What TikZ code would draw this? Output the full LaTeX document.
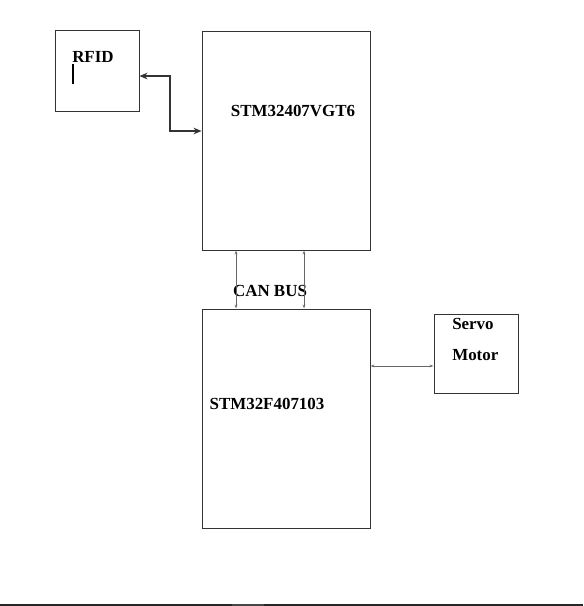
\documentclass[tikz,border=0pt]{standalone}
\usepackage{fontspec}
\setmainfont{Liberation Serif}
\usetikzlibrary{arrows.meta,positioning}

\tikzset{
	box/.style={draw=black!80, line width=0.75pt, rectangle, inner sep=0pt},
	lbl/.style={font=\fontsize{12.7}{15}\selectfont\bfseries, inner sep=0pt},
	link/.style={draw=black!80, line width=1.5pt, {Stealth[length=6pt,width=5pt]}-{Stealth[length=6pt,width=5pt]}},
	can/.style={draw=black!60, line width=0.6pt, {Stealth[length=3pt,width=2pt]}-{Stealth[length=3pt,width=2pt]}}
}

\begin{document}
\begin{tikzpicture}[x=0.75pt, y=-0.75pt]
	\useasboundingbox (0,0) rectangle (583,606);

	\node[box, minimum width=63pt, minimum height=60.75pt] (rfid) at (97,71.5) {};
	\node[box, minimum width=126pt, minimum height=163.5pt] (mcuA) at (286,141) {};
	\node[box, minimum width=126pt, minimum height=164.25pt] (mcuB) at (286,418.5) {};
	\node[box, minimum width=63pt, minimum height=59.25pt] (servo) at (476,353.5) {};

	\node[lbl, anchor=west] (rfidtxt) at (72,57) {RFID};
	\draw[line width=1.5pt] (73,64) -- (73,84);
	\node[lbl] (mcuAtxt) at (293,111) {STM32407VGT6};
	\node[lbl] (mcuBtxt) at (267,404) {STM32F407103};
	\node[lbl, anchor=west] (servotxt) at (452,324) {Servo};
	\node[lbl, anchor=west] (motortxt) at (452,355) {Motor};
	\node[lbl] (cantxt) at (270,291) {CAN BUS};

	\draw[link] ([yshift=-3.4pt]rfid.east) -- ++(30,0) |- ([yshift=7.5pt]mcuA.west);
	\draw[can] ([xshift=-37.5pt]mcuA.south) -- ([xshift=-37.5pt]mcuB.north);
	\draw[can] ([xshift=13.5pt]mcuA.south) -- ([xshift=13.5pt]mcuB.north);
	\draw[can] ([yshift=39.4pt]mcuB.east) -- ([yshift=39.4pt]mcuB.east -| servo.west);

	% bottom rule
	\fill[black!85] (0,603.5) rectangle (583,606);
	\fill[black!72] (232,603.5) rectangle (264,606);
\end{tikzpicture}
\end{document}
